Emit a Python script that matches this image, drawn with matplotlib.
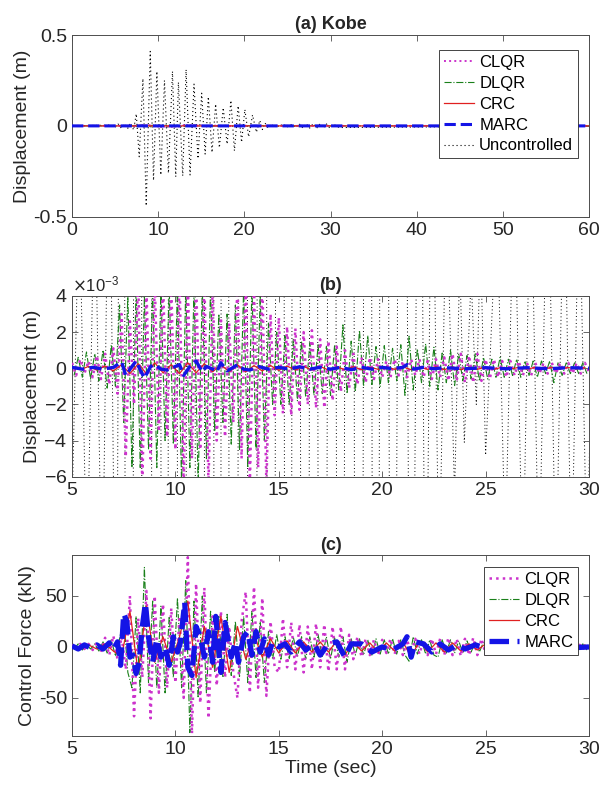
import numpy as np
import matplotlib
matplotlib.use('Agg')
import matplotlib.pyplot as plt
from matplotlib.ticker import ScalarFormatter, FormatStrFormatter

plt.rcParams['font.family'] = ['Liberation Sans', 'DejaVu Sans']
plt.rcParams['axes.unicode_minus'] = False

# ---- uncontrolled displacement (m), peaks (a)/(b)
t_unc = [0.0, 4.6, 5.0, 5.35, 5.72, 6.1, 6.46, 6.8, 7.15, 7.46,
         7.80, 8.23, 8.61, 9.08, 9.46, 9.85, 10.31, 10.73, 11.19, 11.66,
         12.04, 12.35, 12.85, 13.24, 13.70, 14.16, 14.62, 15.05, 15.45, 15.82,
         16.25, 16.67, 17.10, 17.55, 18.00, 18.44, 18.85, 19.28, 19.68, 20.06,
         20.50, 20.95, 21.40, 21.80, 22.10, 22.40, 22.75, 23.10, 23.50, 23.75,
         23.97, 24.30, 24.55, 24.75, 25.00, 25.55, 25.95, 26.38, 26.80, 27.18,
         27.58, 28.00, 28.40, 28.80, 29.15, 29.52, 29.90, 30.30, 31.00, 60.0]
unc = [0.0, 0.004, -0.008, 0.010, -0.012, 0.011, -0.014, 0.016, -0.022, 0.066,
       -0.17, 0.26, -0.44, 0.41, -0.30, 0.30, -0.27, 0.25, -0.26, 0.30,
       -0.28, 0.24, -0.275, 0.31, -0.27, 0.23, -0.18, 0.18, -0.155, 0.16,
       -0.146, 0.12, -0.12, 0.10, -0.10, 0.14, -0.137, 0.11, -0.09, 0.09,
       -0.06, 0.06, -0.035, 0.03, -0.02, 0.016, -0.012, 0.010, -0.007, 0.006,
       -0.0041, 0.005, -0.002, 0.007, -0.0048, 0.009, -0.010, 0.011, -0.012, 0.012,
       -0.012, 0.013, -0.012, 0.012, -0.012, 0.011, -0.011, 0.010, -0.009, 0.0]

# ---- controlled displacement (x1e-3 m)
t_clqr = np.linspace(5.0, 30.0, 126)
clqr_disp = [0.3, -0.4, 0.5, -0.3, 0.4,
             -0.5, 0.7, -0.6, 0.8, -0.9,
             1.1, -1.4, 3.0, -4.9, 2.6,
             -2.0, 5.0, -6.5, 4.5, -5.0,
             4.8, -3.5, 5.0, -3.8, 4.6,
             -4.5, 5.0, -6.5, 4.8, -5.0,
             5.0, -4.5, 5.0, -6.5, 4.5,
             -4.0, 2.8, -3.8, 2.5, -3.0,
             4.8, -5.0, 5.0, -6.5, 4.5,
             -5.5, 5.0, -6.5, 3.0, -2.6,
             2.8, -2.5, 2.3, -2.6, 2.2,
             -2.3, 2.0, -2.0, 2.1, -2.2,
             1.6, -2.2, 1.5, -1.8, 1.2,
             -1.3, 1.0, -1.1, 0.8, -0.9,
             0.6, -0.8, 0.6, -0.6, 0.5,
             -0.5, 0.4, -0.5, 0.5, -0.4,
             0.4, -0.5, 0.5, -0.4, 0.5,
             -0.5, 0.4, -0.6, 0.5, -0.5,
             0.6, -0.7, 0.8, -0.7, 0.8,
             -0.8, 0.7, -0.8, 0.8, -0.7,
             0.5, -0.6, 0.5, -0.5, 0.4,
             -0.5, 0.4, -0.4, 0.4, -0.4,
             0.3, -0.4, 0.3, -0.3, 0.3,
             -0.3, 0.3, -0.3, 0.3, -0.3,
             0.3, -0.3, 0.3, -0.3, 0.3,
             -0.2]

t_dlqr = np.linspace(5.1, 29.9, 125)
dlqr_disp = [-0.4, 0.6, -0.5, 0.9, -0.6,
             0.8, -0.7, 1.0, -1.1, 1.3,
             -1.0, 3.5, -3.0, 4.0, -5.5,
             4.5, -5.5, 4.0, -4.5, 4.5,
             -5.5, 4.5, -4.0, 4.5, -4.2,
             4.5, -6.5, 4.5, -5.5, 4.5,
             -6.5, 4.5, -5.0, 4.5, -3.5,
             3.0, -3.0, 3.0, -4.2, 3.5,
             -4.5, 4.5, -5.5, 4.5, -4.5,
             4.0, -4.0, 2.5, -2.0, 2.0,
             -2.0, 1.8, -2.0, 1.6, -1.8,
             1.5, -1.6, 1.4, -1.5, 1.3,
             -1.4, 1.2, -1.5, 1.3, -1.2,
             2.4, -1.4, 1.5, -1.3, 2.1,
             -1.0, 1.8, -0.9, 1.2, -1.0,
             1.25, -0.8, 1.1, -0.7, 1.3,
             -1.5, 1.77, -1.2, 1.07, -0.8,
             1.35, -1.0, 1.16, -1.2, 0.9,
             -0.8, 1.0, -0.96, 0.8, -0.7,
             0.7, -0.6, 0.8, -0.7, 0.6,
             -0.6, 0.5, -0.5, 0.6, -0.5,
             0.5, -0.4, 0.5, -0.5, 0.4,
             -0.4, 0.4, -0.5, 0.4, -0.3,
             0.4, -0.8, 0.3, -0.4, 0.3,
             -0.3, 0.3, -0.3, 0.3, -0.3]

t_crc = np.linspace(5.0, 29.8, 63)
crc_disp = [0.05, -0.08, 0.10, -0.10, 0.12,
            -0.15, 0.20, -0.30, 0.25, -0.30,
            0.30, -0.25, 0.20, -0.30, 0.30,
            -0.25, 0.25, -0.20, 0.20, -0.20,
            0.20, -0.20, 0.15, -0.15, 0.15,
            -0.12, 0.12, -0.10, 0.10, -0.10,
            0.10, -0.10, 0.08, -0.08, 0.08,
            -0.08, 0.06, -0.06, 0.06, -0.06,
            0.08, -0.08, 0.06, -0.06, 0.08,
            -0.08, 0.08, -0.08, 0.06, -0.06,
            0.06, -0.05, 0.05, -0.05, 0.05,
            -0.05, 0.05, -0.04, 0.04, -0.04,
            0.04, -0.04, 0.03]

t_marc_d = [5.0, 5.5, 6.0, 6.5, 7.0, 7.4, 7.6, 7.9, 8.1, 8.3,
            8.5, 8.8, 9.0, 9.3, 9.6, 10.0, 10.2, 10.4, 10.7, 11.0,
            11.3, 11.5, 11.8, 12.0, 12.2, 12.5, 12.8, 13.0, 13.3, 13.6,
            14.0, 14.5, 15.0, 15.5, 16.0, 16.5, 17.0, 17.5, 18.0, 18.5,
            19.0, 19.5, 20.0, 20.5, 21.0, 21.2, 21.5, 22.0, 22.5, 23.0,
            24.0, 25.0, 26.0, 27.0, 28.0, 29.0, 30.0]
marc_disp = [0.05, -0.05, 0.05, -0.05, 0.05, 0.35, -0.4, 0.1, 0.4, -0.1,
             -0.55, 0.1, 0.2, -0.05, -0.1, 0.1, 0.2, -0.4, 0.1, 0.4,
             -0.2, 0.1, -0.05, -0.2, 0.3, -0.15, 0.05, 0.2, -0.05, -0.1,
             0.1, -0.05, 0.05, -0.05, 0.08, -0.05, 0.05, -0.05, 0.05, -0.08,
             0.05, -0.05, 0.05, -0.03, 0.05, 0.2, -0.05, 0.05, -0.03, 0.03,
             -0.03, 0.03, -0.03, 0.03, -0.03, 0.03, 0.0]

# ---- control force (kN)
clqr_force = [2, -3, 3, -2, 3,
              -3, 4, -5, 9, -8,
              11, -12, 10, -22, 50,
              -68, 28, -30, 55, -70,
              50, -45, 42, -40, 38,
              -35, 30, -50, 88, -85,
              62, -55, 58, -70, 30,
              -38, 35, -30, 20, -25,
              -50, 25, 54, -45, 59,
              -40, 48, -48, 25, -20,
              -25, 28, -20, 24, -22,
              22, -25, 20, -22, 23,
              -20, 22, -24, 20, -22,
              20, -22, 12, -12, 10,
              -10, 8, -8, 7, -8,
              7, -6, 8, -7, 6,
              -8, 7, -6, 8, -7,
              7, -8, 8, -7, 8,
              -8, 9, -8, 8, -9,
              8, -8, 9, -8, 8,
              -7, 6, -5, 5, -5,
              4, -5, 4, -4, 4,
              -4, 4, -3, 4, -3,
              3, -4, 3, -3, 3,
              -3, 3, -3, 3, -3,
              2]

dlqr_force = [-2, 3, -3, 2, -2,
              3, -4, 5, -6, 7,
              -9, 8, 30, -25, -40,
              30, -45, 78, -35, 45,
              -40, 40, -45, 30, -30,
              48, -40, 65, -84, 45,
              -50, 50, -45, 35, -25,
              30, -30, 32, -28, 25,
              -30, 30, -35, 35, -30,
              25, -35, 15, -12, 12,
              -12, 10, -12, 10, -10,
              10, -12, 10, -10, 12,
              -10, 10, -12, 10, -10,
              10, -15, 8, -8, 8,
              -8, 7, -8, 8, -7,
              7, -7, 8, -7, 7,
              -8, -14, 10, -7, 7,
              -7, 7, -8, -10, 7,
              -6, 7, -6, 6, -6,
              6, -5, 5, -5, 5,
              -4, 4, -4, 3, -3,
              3, -3, 3, -3, 3,
              -3, 3, -3, 3, -3,
              3, -3, 3, -3, 3,
              -3, 3, -3, 3, -3]

crc_force = [1, -2, 2, -2, 3,
             -4, -10, 35, -25, 40,
             -15, 10, -15, 10, 45,
             -30, 20, -20, 30, -25,
             20, -12, 12, -10, 8,
             -6, 6, -6, 5, -5,
             5, -5, 6, -8, 5,
             -4, 4, -5, 4, -4,
             5, -10, 6, -5, 4,
             -5, 4, -4, 3, -3,
             3, -3, 3, -2, 2,
             -2, 2, -2, 2, -2,
             2, -2, 2]

t_marc_f = [5.0, 5.3, 5.6, 5.9, 6.2, 6.5, 6.8, 7.0, 7.2, 7.35,
            7.5, 7.65, 7.8, 7.95, 8.1, 8.25, 8.4, 8.55, 8.7, 8.9,
            9.1, 9.3, 9.5, 9.7, 9.9, 10.1, 10.25, 10.45, 10.6, 10.8,
            11.0, 11.2, 11.4, 11.6, 11.8, 11.95, 12.2, 12.4, 12.7, 12.9,
            13.05, 13.3, 13.5, 13.7, 13.9, 14.1, 14.3, 14.5, 14.7, 15.0,
            15.3, 15.6, 16.0, 16.3, 16.7, 17.0, 17.4, 17.8, 18.2, 18.5,
            19.0, 19.5, 20.0, 20.5, 21.0, 21.2, 21.4, 21.6, 22.0, 22.4,
            22.8, 23.2, 23.6, 24.0, 24.5, 25.0, 26.0, 27.0, 28.0, 29.0,
            30.0]
marc_force = [1, -2, 2, -1, 2, -2, 4, -3, 5, -18,
              33, 25, -10, -8, -26, -15, 20, 43, 10, -15,
              8, -10, 0, -18, 10, -5, 5, 44, -20, -28,
              20, 10, -10, 15, -15, 30, -25, 24, -10, 5,
              -15, 10, 15, -8, 15, -5, 8, -8, 5, 0,
              3, -5, 5, -3, 3, -8, 3, 5, -10, 3,
              3, -5, 0, -3, 3, 10, -10, 5, 3, -5,
              3, -3, 2, -2, 2, -1, 1, -1, 1, -1,
              0]

labels = ['CLQR', 'DLQR', 'CRC', 'MARC', 'Uncontrolled']

c_clqr = '#cc33cc'
c_dlqr = '#1a801a'
c_crc = '#e02020'
c_marc = '#1414e6'
axcol = '#4d4d4d'
txtcol = '#262626'
unc_style = (0, (1, 2.6))


def pad(t, v):
    # extend a 5-30 s record with rest at 0 and 60 s for panel (a)
    return np.concatenate(([0.0], t, [60.0])), np.concatenate(([0.0], v, [0.0]))


def style(ax):
    ax.tick_params(direction='in', top=True, right=True, length=4, width=0.6,
                   colors=txtcol, labelsize=14, color=axcol)
    for s in ax.spines.values():
        s.set_color(axcol)
        s.set_linewidth(0.7)


def add_legend(ax, top):
    leg = ax.legend(loc='upper right', bbox_to_anchor=(0.979, top), borderaxespad=0,
                    fontsize=12, handlelength=1.8, handletextpad=0.3, labelspacing=0.35,
                    borderpad=0.3, fancybox=False, framealpha=1, edgecolor=txtcol)
    leg.get_frame().set_linewidth(0.6)


fig = plt.figure(figsize=(6, 7.93), dpi=100)
ax1 = fig.add_axes([0.12, 0.7267, 0.8617, 0.2291])
ax2 = fig.add_axes([0.12, 0.3989, 0.8617, 0.2279])
ax3 = fig.add_axes([0.12, 0.0723, 0.8617, 0.2276])

clqr_m = np.array(clqr_disp) * 1e-3
dlqr_m = np.array(dlqr_disp) * 1e-3
crc_m = np.array(crc_disp) * 1e-3
marc_m = np.array(marc_disp) * 1e-3

# (a)
ax1.plot(*pad(t_clqr, clqr_m), ':', color=c_clqr, lw=1.4, label=labels[0], zorder=3)
ax1.plot(*pad(t_dlqr, dlqr_m), '-.', color=c_dlqr, lw=0.8, label=labels[1], zorder=2)
ax1.plot(*pad(t_crc, crc_m), '-', color=c_crc, lw=0.9, label=labels[2], zorder=4)
ax1.plot(*pad(np.array(t_marc_d), marc_m), '--', color=c_marc, lw=2.2, label=labels[3], zorder=5)
ax1.plot(t_unc, unc, linestyle=unc_style, color='k', lw=0.8, label=labels[4], zorder=1)
ax1.set_xlim(0, 60)
ax1.set_ylim(-0.5, 0.5)
ax1.set_xticks(np.arange(0, 61, 10))
ax1.set_yticks([-0.5, 0, 0.5])
ax1.yaxis.set_major_formatter(FormatStrFormatter('%g'))
ax1.set_ylabel('Displacement (m)', fontsize=14, color=txtcol, labelpad=2)
ax1.set_title('(a) Kobe', fontweight='bold', fontsize=13, color=txtcol, pad=4)
style(ax1)
add_legend(ax1, 0.917)

# (b)
ax2.plot(t_clqr, clqr_m, ':', color=c_clqr, lw=1.8, zorder=3)
ax2.plot(t_dlqr, dlqr_m, '-.', color=c_dlqr, lw=0.8, zorder=2)
ax2.plot(t_crc, crc_m, '-', color=c_crc, lw=0.9, zorder=4)
ax2.plot(t_marc_d, marc_m, '--', color=c_marc, lw=2.4, zorder=5)
ax2.plot(t_unc, unc, linestyle=unc_style, color='k', lw=0.7, zorder=1)
ax2.set_xlim(5, 30)
ax2.set_ylim(-6e-3, 4e-3)
ax2.set_xticks(np.arange(5, 31, 5))
ax2.set_yticks(np.arange(-6, 5, 2) * 1e-3)
fmt = ScalarFormatter(useMathText=True)
fmt.set_powerlimits((-2, 2))
ax2.yaxis.set_major_formatter(fmt)
ax2.yaxis.get_offset_text().set_fontsize(12)
ax2.yaxis.get_offset_text().set_color(txtcol)
ax2.set_ylabel('Displacement (m)', fontsize=14, color=txtcol, labelpad=2)
ax2.set_title('(b)', fontweight='bold', fontsize=13, color=txtcol, pad=4)
style(ax2)

# (c)
ax3.plot(t_clqr, clqr_force, ':', color=c_clqr, lw=1.8, label=labels[0], zorder=3)
ax3.plot(t_dlqr, dlqr_force, '-.', color=c_dlqr, lw=0.8, label=labels[1], zorder=2)
ax3.plot(t_crc, crc_force, '-', color=c_crc, lw=0.9, label=labels[2], zorder=4)
ax3.plot(t_marc_f, marc_force, '--', color=c_marc, lw=3.8, label=labels[3], zorder=5)
ax3.set_xlim(5, 30)
ax3.set_ylim(-87, 90)
ax3.set_xticks(np.arange(5, 31, 5))
ax3.set_yticks([-50, 0, 50])
ax3.set_ylabel('Control Force (kN)', fontsize=14, color=txtcol, labelpad=2)
ax3.set_xlabel('Time (sec)', fontsize=14, color=txtcol, labelpad=2)
ax3.set_title('(c)', fontweight='bold', fontsize=13, color=txtcol, pad=4)
style(ax3)
add_legend(ax3, 0.934)

fig.savefig('out.png', dpi=100)
